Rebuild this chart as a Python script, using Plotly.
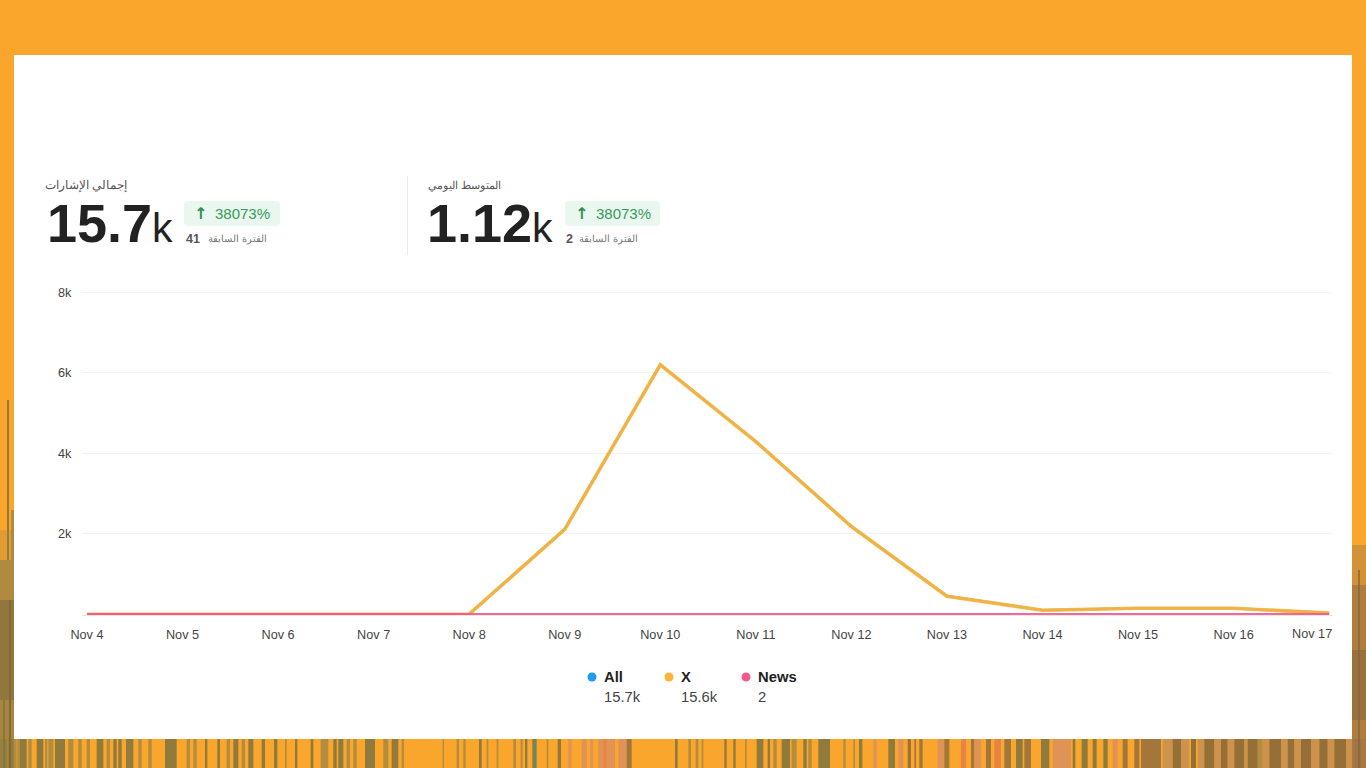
import plotly.graph_objects as go

# ---------- data ----------
dates = ["2024-11-%02d" % d for d in [4, 5, 6, 7, 8, 9, 10, 11, 12, 13, 14, 15, 16, 17]]
tick_labels = ["Nov 4", "Nov 5", "Nov 6", "Nov 7", "Nov 8", "Nov 9", "Nov 10", "Nov 11",
               "Nov 12", "Nov 13", "Nov 14", "Nov 15", "Nov 16", "Nov 17"]
all_values = [3, 3, 3, 3, 3, 2112, 6203, 4293, 2183, 453, 103, 153, 152, 31]
x_values = [3, 3, 3, 3, 3, 2110, 6200, 4290, 2180, 450, 100, 150, 150, 30]
news_values = [0, 0, 0, 0, 0, 0, 0, 0, 0, 0, 1, 1, 0, 0]
y_ticks = [2000, 4000, 6000, 8000]
y_labels = ["2k", "4k", "6k", "8k"]
series_names = ["All", "X", "News"]
series_totals = ["15.7k", "15.6k", "2"]
series_colors = ["#1C9BF0", "#FDB53C", "#F0588F"]

# ---------- page geometry (pixels of the 1366x768 photograph) ----------
W, H = 1366, 768
L, R, T, B = 82, 1333, 291, 615
def px(x): return (x - L) / (R - L)
def py(y): return (B - y) / (B - T)

ORANGE = "#FAA62C"
OL = "rgba(132,118,62,0.9)"; LT = "rgba(150,130,70,0.72)"; PK = "rgba(214,140,100,0.75)"
RD = "rgba(226,124,74,0.85)"; BR = "rgba(150,112,62,0.88)"; TE = "rgba(100,130,95,0.9)"
DK = "rgba(132,100,58,0.85)"; TN = "rgba(190,140,88,0.75)"

# decorative stripes of the page background, in zoomed crop units (3x)
stripes_a = [(0,8,LT),(8,20,OL),(25,40,OL),(42,50,LT),(52,60,LT),(60,80,OL),(85,95,LT),(110,130,OL),(135,142,LT),
             (145,160,LT),(165,195,OL),(205,220,LT),(235,245,LT),
             (260,270,LT),(290,310,OL),(320,330,LT),(340,350,OL),(355,365,OL),(378,400,OL),(415,425,LT),
             (445,455,LT),(495,530,OL),(560,570,LT),(580,590,LT),(615,622,OL),(652,660,OL),(680,690,LT),
             (700,715,OL),(725,735,LT),(745,760,OL),(785,795,OL),(822,832,OL),(855,860,LT),(885,892,OL),
             (932,940,OL),(962,985,LT),(1000,1010,OL),(1015,1030,OL),(1040,1050,LT),(1060,1070,LT),
             (1095,1125,OL),(1150,1165,LT),(1175,1195,OL),(1205,1212,LT),(1328,1332,LT)]
stripes_b = [(5,12,LT),(25,32,LT),(72,80,OL),(95,100,LT),(125,130,LT),(175,183,LT),(197,203,LT),(210,217,OL),
             (232,245,TE),(275,280,LT),(308,318,OL),(340,350,PK),(380,395,PK),(405,415,PK),(430,445,PK),
             (445,455,RD),(455,475,PK),(475,480,PK),(490,515,PK),(515,530,BR),(660,668,OL),(700,708,LT),
             (722,730,LT),(740,745,LT),(808,815,OL),(835,842,OL),(870,875,LT),(905,925,OL),(938,945,OL),
             (955,965,LT),(980,1005,OL),(1010,1025,LT),(1045,1055,OL),(1060,1070,LT),(1090,1125,OL),
             (1165,1172,LT),(1195,1200,LT),(1212,1222,OL),(1255,1265,PK),(1300,1320,OL),(1330,1345,PK),(1360,1365,BR)]
stripes_c = [(5,15,BR),(25,30,BR),(40,50,BR),(95,115,PK),(115,130,BR),(165,180,RD),(195,205,BR),(205,225,PK),
             (240,255,BR),(265,285,RD),(295,315,BR),(330,350,OL),(355,375,BR),(405,430,OL),(440,495,PK),
             (500,508,OL),(527,545,OL),(560,572,OL),(592,605,OL),(620,635,PK),(650,665,BR),(685,700,BR),
             (705,765,BR),(770,800,TN),(800,825,DK),(825,850,TN),(855,870,DK),(875,895,TN),(895,925,DK),(925,945,TN),
             (945,965,DK),(965,985,TN),(985,1015,DK),(1015,1025,TN),(1025,1055,DK),(1055,1070,LT),(1070,1090,TN),
             (1090,1125,DK),(1125,1145,TN),(1145,1165,DK),(1165,1185,TN),(1185,1215,DK),(1215,1240,TN),
             (1240,1265,DK),(1265,1285,TN),(1285,1320,DK),(1320,1345,TN),(1345,1365,DK),(1365,1380,TN)]
edge_bands = [(7, 400, 9, 560, OL), (11, 510, 14, 560, LT),
              (0, 530, 14, 560, "rgba(150,130,70,0.25)"), (0, 560, 14, 600, "rgba(150,130,70,0.75)"),
              (0, 600, 14, 700, "rgba(140,118,62,0.97)"), (0, 700, 14, 768, "rgba(145,125,65,0.8)"),
              (3, 700, 5, 768, OL), (9, 600, 11, 768, DK),
              (1352, 545, 1366, 585, "rgba(165,122,70,0.45)"), (1352, 585, 1366, 650, "rgba(160,118,68,0.85)"),
              (1352, 650, 1366, 720, "rgba(150,112,62,0.97)"), (1352, 720, 1366, 768, "rgba(160,118,68,0.85)"),
              (1358, 570, 1360, 768, "rgba(132,100,58,0.7)")]

shapes = []
def rect(x0, y0, x1, y1, color):
    shapes.append(dict(type="rect", xref="paper", yref="paper", x0=px(x0), x1=px(x1), y0=py(y0), y1=py(y1),
                       fillcolor=color, line_width=0, layer="below"))

for off, group in ((0, stripes_a), (455, stripes_b), (906, stripes_c)):
    for a, b, c in group:
        rect(off + a / 3, 739, off + b / 3, 768, c)
for x0, y0, x1, y1, c in edge_bands:
    rect(x0, y0, x1, y1, c)
rect(14, 55, 1352, 739, "#FFFFFF")
rect(407, 176, 408, 255, "#EBEBEB")

def rounded(x0, y0, x1, y1, r, color):
    p = (f"M {px(x0+r)} {py(y0)} L {px(x1-r)} {py(y0)} Q {px(x1)} {py(y0)} {px(x1)} {py(y0+r)} "
         f"L {px(x1)} {py(y1-r)} Q {px(x1)} {py(y1)} {px(x1-r)} {py(y1)} L {px(x0+r)} {py(y1)} "
         f"Q {px(x0)} {py(y1)} {px(x0)} {py(y1-r)} L {px(x0)} {py(y0+r)} Q {px(x0)} {py(y0)} {px(x0+r)} {py(y0)} Z")
    shapes.append(dict(type="path", xref="paper", yref="paper", path=p, fillcolor=color, line_width=0, layer="below"))

rounded(184, 201, 280, 226, 4, "#E9F7EE")
rounded(565, 201, 660, 226, 4, "#E9F7EE")

annotations = []
def text(x, y, s, size, color, anchor="left", family="Liberation Sans"):
    annotations.append(dict(xref="paper", yref="paper", x=px(x), y=py(y), text=s, showarrow=False,
                            xanchor=anchor, yanchor="middle", borderpad=0,
                            font=dict(size=size, color=color, family=family)))

def kpi(label, label_right, label_size, value, value_x, badge_x, prev, prev_x, prev_right):
    text(label_right, 185, label, label_size, "#555555", "right")
    text(value_x, 223, f"<b>{value}</b><span style='font-size:41px'>k</span>", 54, "#222222")
    text(badge_x + 9, 213, "<b>↑</b>", 16, "#2F8F55", family="DejaVu Sans")
    text(badge_x + 30, 213, "38073%", 15, "#3A9A5E")
    text(prev_x, 239, f"<b>{prev}</b>", 12.5, "#555555")
    text(prev_right, 239, "الفترة السابقة", 10, "#777777", "right")

kpi("إجمالي الإشارات", 128, 12, "15.7", 46, 184, "41", 185, 268)
kpi("المتوسط اليومي", 502, 11, "1.12", 426, 565, "2", 565, 639)
text(1333, 634, tick_labels[-1], 12.7, "#444444", "right")

for name, total, color, cx in zip(series_names, series_totals, series_colors, [592, 669, 746]):
    shapes.append(dict(type="circle", xref="paper", yref="paper", x0=px(cx - 4.5), x1=px(cx + 4.5),
                       y0=py(677 - 4.5), y1=py(677 + 4.5), fillcolor=color, line_width=0))
    text(cx + 11, 677, f"<b>{name}</b>", 14.8, "#222222")
    text(cx + 11, 697, total, 14.8, "#444444")

fig = go.Figure()
for name, vals, color, width, op in zip(series_names, [all_values, x_values, news_values], series_colors,
                                        [2.5, 3.6, 2.6], [1, 0.93, 0.9]):
    fig.add_trace(go.Scatter(x=dates, y=vals, name=name, mode="lines", opacity=op,
                             line=dict(color=color, width=width)))

fig.update_layout(
    width=W, height=H, showlegend=False, paper_bgcolor=ORANGE, plot_bgcolor="rgba(0,0,0,0)",
    margin=dict(l=L, r=W - R, t=T, b=H - B, pad=0),
    font=dict(family="Liberation Sans", size=12.7, color="#444444"),
    shapes=shapes, annotations=annotations,
    xaxis=dict(type="date", range=["2024-11-03 22:45", "2024-11-17 00:58"], tickmode="array", tickvals=dates,
               ticktext=tick_labels[:-1] + [""], showgrid=False, showline=True, linecolor="#E6E6E6", linewidth=1,
               ticks="outside", ticklen=8, tickcolor="rgba(0,0,0,0)", zeroline=False,
               tickfont=dict(size=12.7, color="#444444"), tickangle=0),
    yaxis=dict(range=[-17, 8032], tickmode="array", tickvals=y_ticks, ticktext=y_labels, showgrid=True,
               gridcolor="#F2F2F2", gridwidth=1, zeroline=False, showline=False, ticks="outside", ticklen=7,
               tickcolor="rgba(0,0,0,0)", tickfont=dict(size=12.7, color="#444444")),
)
fig.write_html("out.html", config=dict(displayModeBar=False),
               post_script="document.body.style.margin='0';document.documentElement.style.overflow='hidden';")
